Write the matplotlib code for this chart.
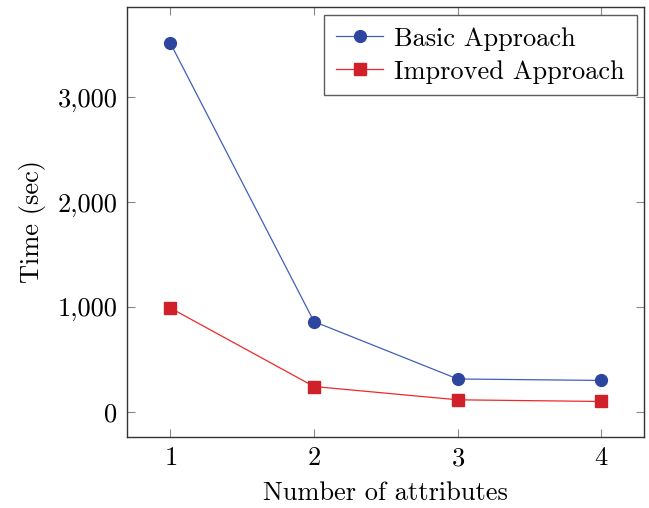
import matplotlib
matplotlib.use("Agg")
import matplotlib.pyplot as plt
from matplotlib.ticker import FuncFormatter

# Data
attributes = [1, 2, 3, 4]
basic_time = [3520, 860, 312, 298]
improved_time = [990, 240, 113, 97]

plt.rcParams['font.family'] = ['cmr10', 'DejaVu Serif']
plt.rcParams['mathtext.fontset'] = 'cm'
plt.rcParams['axes.formatter.use_mathtext'] = True

fig = plt.figure(figsize=(6.49, 5.08), dpi=100)
ax = fig.add_axes([0.196, 0.140, 0.797, 0.846])

ax.plot(attributes, basic_time, color='#4060B8', lw=0.9, marker='o',
        markersize=8.5, markerfacecolor='#2E45A0', markeredgecolor='#2E45A0',
        label='Basic Approach')
ax.plot(attributes, improved_time, color='#F02828', lw=0.9, marker='s',
        markersize=8, markerfacecolor='#D0202A', markeredgecolor='#D0202A',
        label='Improved Approach')

ax.set_xlim(0.7, 4.3)
ax.set_ylim(-241, 3863)
ax.set_xticks(attributes)
ax.set_yticks([0, 1000, 2000, 3000])
ax.yaxis.set_major_formatter(FuncFormatter(lambda v, p: f"{v:,.0f}"))

ax.tick_params(direction='in', top=True, right=True, length=6, width=0.8,
               color='#888888', labelsize=19, pad=7)
for sp in ax.spines.values():
    sp.set_color('#333333')
    sp.set_linewidth(1.0)

ax.set_xlabel('Number of attributes', fontsize=19, labelpad=8)
ax.set_ylabel('Time (sec)', fontsize=19, labelpad=8)

leg = ax.legend(loc='upper right', fontsize=19, frameon=True, fancybox=False,
                edgecolor='#333333', borderpad=0.45, handlelength=1.8,
                handletextpad=0.4, labelspacing=0.35, borderaxespad=0.3)
leg.get_frame().set_linewidth(1.0)

fig.savefig('out.png', dpi=100)
